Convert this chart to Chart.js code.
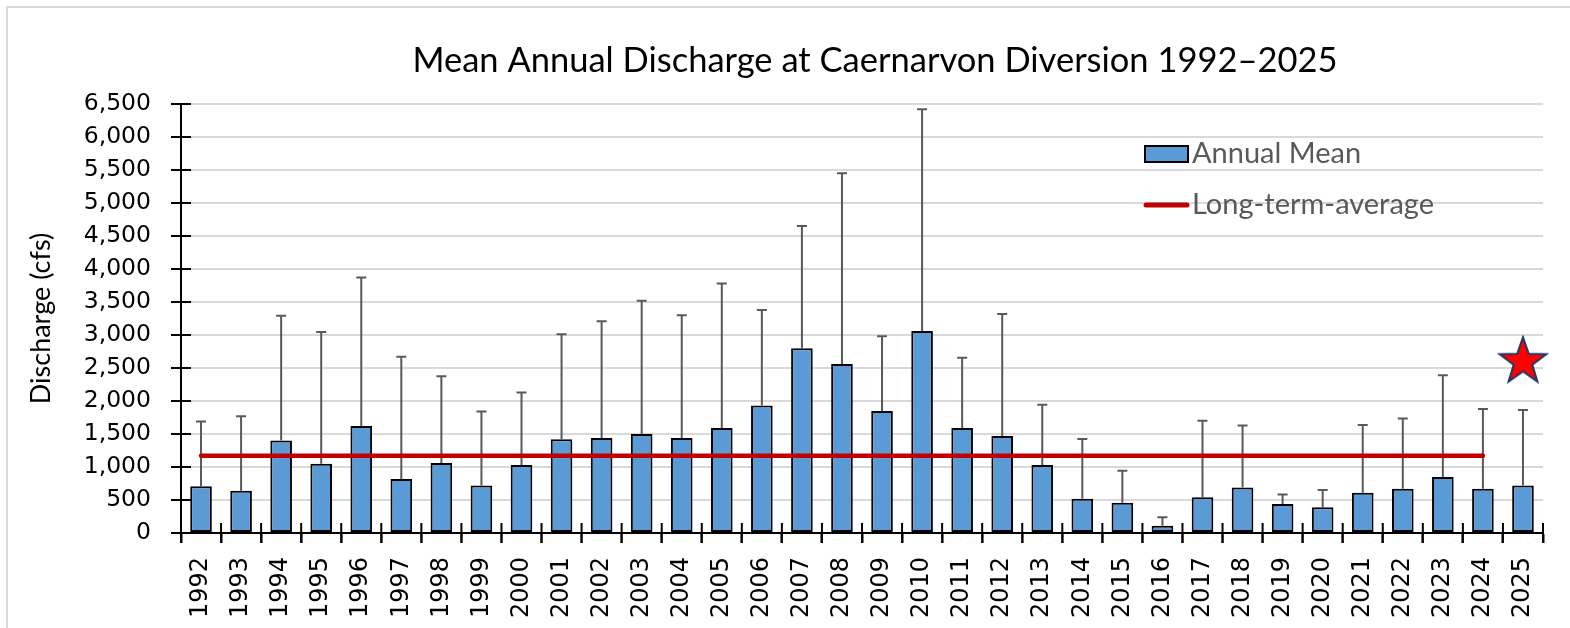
<!DOCTYPE html>
<html>
<head>
<meta charset="utf-8">
<title>Mean Annual Discharge at Caernarvon Diversion 1992–2025</title>
<script src="https://cdn.jsdelivr.net/npm/chart.js@4.4.1/dist/chart.umd.min.js"></script>
<style>
  html, body { margin: 0; padding: 0; background: #fff; }
  canvas { display: block; }
</style>
</head>
<body>
<canvas id="chart" width="1570" height="628"></canvas>
<script>
var years = ['1992', '1993', '1994', '1995', '1996', '1997', '1998', '1999', '2000', '2001',
  '2002', '2003', '2004', '2005', '2006', '2007', '2008', '2009', '2010', '2011',
  '2012', '2013', '2014', '2015', '2016', '2017', '2018', '2019', '2020', '2021',
  '2022', '2023', '2024', '2025'];

// annual mean discharge (cfs)
var annualMean = [710, 640, 1400, 1050, 1620, 820, 1060, 720, 1030, 1420,
  1440, 1500, 1440, 1590, 1930, 2800, 2560, 1850, 3060, 1590,
  1470, 1030, 520, 460, 110, 540, 690, 440, 390, 610,
  670, 850, 670, 720];

// top of the upper error bar for each year
var errorTop = [1690, 1770, 3290, 3045, 3870, 2670, 2375, 1840, 2130, 3010,
  3210, 3520, 3300, 3780, 3380, 4650, 5450, 2980, 6420, 2655,
  3320, 1945, 1425, 945, 240, 1700, 1630, 585, 650, 1635,
  1735, 2390, 1880, 1865];

var longTermAvg = 1170;
var avgLastYear = '2024';

var starYear = '2025';
var starValue = 2610;

var yTicks = { min: 0, max: 6500, step: 500 };

// filled star image used as the point style
function makeStar() {
  var c = document.createElement('canvas');
  c.width = 52; c.height = 52;
  var g = c.getContext('2d');
  var cx = 26, cy = 27, R = 24.5, r = 9.8;
  g.beginPath();
  for (var i = 0; i < 10; i++) {
    var rad = (i % 2 === 0) ? R : r;
    var a = -Math.PI / 2 + i * Math.PI / 5;
    var px = cx + rad * Math.cos(a), py = cy + rad * Math.sin(a);
    if (i === 0) g.moveTo(px, py); else g.lineTo(px, py);
  }
  g.closePath();
  g.fillStyle = '#FF0000';
  g.fill();
  g.lineWidth = 2;
  g.strokeStyle = '#1F3864';
  g.stroke();
  return c;
}

var frame = {
  id: 'frame',
  beforeDraw: function(chart) {
    var ctx = chart.ctx;
    ctx.save();
    ctx.fillStyle = '#fff';
    ctx.fillRect(0, 0, chart.width, chart.height);
    ctx.strokeStyle = '#D9D9D9';
    ctx.lineWidth = 2;
    ctx.strokeRect(7, 7, chart.width + 20, chart.height + 20);
    ctx.restore();
  }
};

// move the title so it sits over the plot like the original
var titleShift = {
  id: 'titleShift',
  afterLayout: function(chart) {
    if (chart.titleBlock) chart.titleBlock.left = 207;
  }
};

var errorBars = {
  id: 'errorBars',
  afterDatasetDraw: function(chart, args) {
    if (args.index !== 0) return;
    var y = chart.scales.y;
    var ctx = chart.ctx;
    ctx.save();
    ctx.strokeStyle = '#595959';
    ctx.lineWidth = 2;
    args.meta.data.forEach(function(bar, i) {
      var top = y.getPixelForValue(errorTop[i]);
      ctx.beginPath();
      ctx.moveTo(bar.x, bar.y);
      ctx.lineTo(bar.x, top);
      ctx.moveTo(bar.x - 5, top);
      ctx.lineTo(bar.x + 5, top);
      ctx.stroke();
    });
    ctx.restore();
  }
};

// ticks that cross the axis lines
var crossTicks = {
  id: 'crossTicks',
  afterDatasetsDraw: function(chart) {
    var ctx = chart.ctx, x = chart.scales.x, y = chart.scales.y;
    var area = chart.chartArea;
    ctx.save();
    ctx.strokeStyle = '#000';
    ctx.lineWidth = 2;
    ctx.beginPath();
    y.ticks.forEach(function(t) {
      var py = y.getPixelForValue(t.value);
      ctx.moveTo(area.left - 9, py);
      ctx.lineTo(area.left + 10, py);
    });
    for (var i = 0; i <= years.length; i++) {
      var px = x.getPixelForValue(i - 0.5);
      ctx.moveTo(px, area.bottom - 10);
      ctx.lineTo(px, area.bottom + 10);
    }
    ctx.stroke();
    ctx.restore();
  }
};

var legendBox = {
  id: 'legendBox',
  afterDraw: function(chart) {
    var ctx = chart.ctx, ds = chart.data.datasets;
    ctx.save();
    ctx.font = '29px Lato';
    ctx.textBaseline = 'alphabetic';
    ctx.fillStyle = ds[0].backgroundColor;
    ctx.fillRect(1145, 146, 43, 16);
    ctx.strokeStyle = '#000';
    ctx.lineWidth = 2;
    ctx.strokeRect(1145, 146, 43, 16);
    ctx.fillStyle = '#595959';
    ctx.fillText(ds[0].label, 1192, 163);
    ctx.strokeStyle = ds[1].borderColor;
    ctx.lineWidth = 5;
    ctx.lineCap = 'round';
    ctx.beginPath();
    ctx.moveTo(1146, 205);
    ctx.lineTo(1187, 205);
    ctx.stroke();
    ctx.fillText(ds[1].label, 1192, 214);
    ctx.restore();
  }
};

var avgData = years.map(function(yr) { return yr <= avgLastYear ? longTermAvg : null; });
var starData = years.map(function(yr) { return yr === starYear ? starValue : null; });

var ctx = document.getElementById('chart').getContext('2d');
var chart = new Chart(ctx, {
  type: 'bar',
  data: {
    labels: years,
    datasets: [{
      label: 'Annual Mean',
      data: annualMean,
      backgroundColor: '#5B9BD5',
      borderColor: '#000',
      borderWidth: 2,
      borderSkipped: false,
      barPercentage: 0.54,
      categoryPercentage: 1,
      order: 3
    },
    {
      type: 'line',
      label: 'Long-term-average',
      data: avgData,
      borderColor: '#C00000',
      backgroundColor: '#C00000',
      borderWidth: 4.5,
      borderCapStyle: 'round',
      pointRadius: 0,
      spanGaps: false,
      order: 2
    },
    {
      type: 'line',
      label: '2025',
      data: starData,
      showLine: false,
      pointStyle: makeStar(),
      pointRadius: 20,
      order: 1
    }]
  },
  options: {
    responsive: false,
    animation: false,
    devicePixelRatio: 1,
    locale: 'en-US',
    layout: { padding: { left: 0, right: 27, top: 0, bottom: 0 } },
    plugins: {
      legend: { display: false },
      tooltip: { enabled: false },
      title: {
        display: true,
        text: 'Mean Annual Discharge at Caernarvon Diversion 1992–2025',
        color: '#000',
        font: { family: 'Lato', size: 34.5, weight: 'normal', lineHeight: 1.2 },
        padding: { top: 40, bottom: 22.6 }
      }
    },
    scales: {
      x: {
        grid: { drawOnChartArea: false, drawTicks: true, tickLength: 10, tickColor: '#000', tickWidth: 2 },
        border: { color: '#000', width: 2 },
        ticks: {
          color: '#000',
          font: { family: 'DejaVu Sans', size: 24 },
          minRotation: 90,
          maxRotation: 90,
          padding: 14,
          autoSkip: false
        },
        afterFit: function(s) { s.height = 95; }
      },
      y: {
        min: yTicks.min,
        max: yTicks.max,
        grid: { color: '#D9D9D9', lineWidth: 2, tickLength: 10, tickColor: '#000', tickWidth: 2 },
        border: { color: '#000', width: 2 },
        ticks: {
          stepSize: yTicks.step,
          color: '#000',
          font: { family: 'DejaVu Sans', size: 23.5 },
          padding: 20
        },
        title: {
          display: true,
          text: 'Discharge (cfs)',
          color: '#000',
          font: { family: 'Lato', size: 27, lineHeight: 1.2 },
          padding: { top: 25, bottom: 0 }
        },
        afterFit: function(s) { s.width = 181; }
      }
    }
  },
  plugins: [frame, titleShift, errorBars, crossTicks, legendBox]
});
</script>
</body>
</html>
